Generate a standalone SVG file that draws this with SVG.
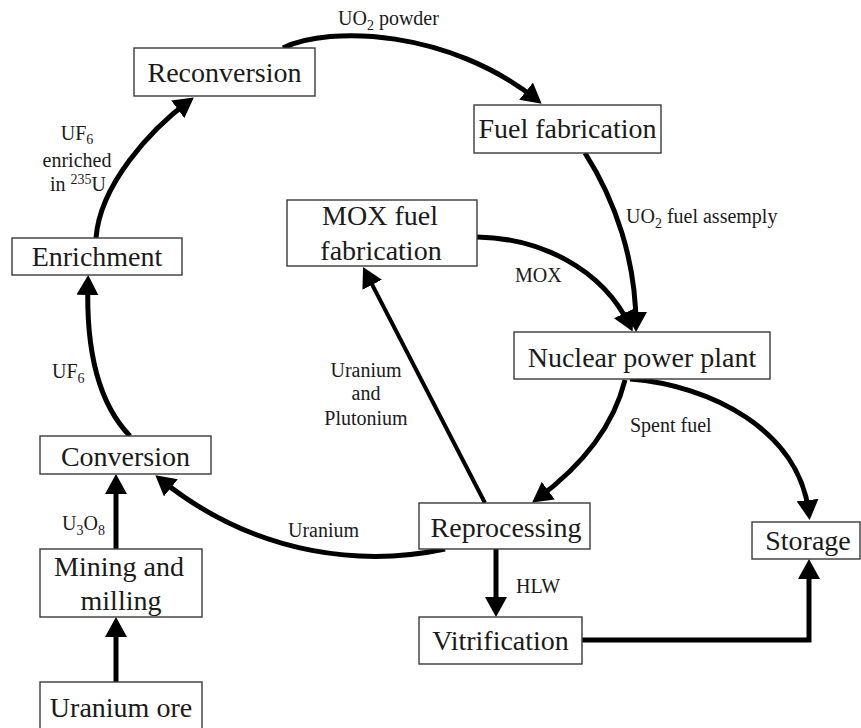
<svg xmlns="http://www.w3.org/2000/svg" width="861" height="728" viewBox="0 0 861 728">
<defs>
<style>
.box{fill:#fff;stroke:#3a3a3a;stroke-width:1.4}
.nt{font-family:"Liberation Serif","Times New Roman",serif;font-size:28px;fill:#1a1a1a;text-anchor:middle}
.lb{font-family:"Liberation Serif","Times New Roman",serif;font-size:20px;fill:#1a1a1a}
.c{fill:none;stroke:#000;stroke-width:5;marker-end:url(#ah)}
.sub{font-size:14px}
</style>
<marker id="ah" viewBox="0 0 20 22" refX="14" refY="11" markerWidth="20" markerHeight="22" markerUnits="userSpaceOnUse" orient="auto">
<path d="M0,0 L20,11 L0,22 z" fill="#000"/>
</marker>
</defs>
<rect width="861" height="728" fill="#fff"/>
<g id="connectors">
<path class="c" d="M96,238 C100,185 150,130 189,101"/>
<path class="c" d="M283,48 C330,25 450,30 537,100"/>
<path class="c" d="M585,153 C615,200 636,260 636,326"/>
<path class="c" d="M477,237 C540,238 602,268 630,326"/>
<path class="c" d="M625,380 C615,420 590,460 537,499"/>
<path class="c" d="M630,379 C710,385 800,430 809,514"/>
<path class="c" style="stroke-width:4" d="M485,503 L365.8,272.3"/>
<path class="c" d="M445,549 C370,565 260,560 160,479"/>
<path class="c" d="M130,436 C95,400 86,340 88,281"/>
<path class="c" d="M116,549 L116,480"/>
<path class="c" d="M116,682 L116,623"/>
<path class="c" d="M496,549 L496,611"/>
<path class="c" d="M582,640 L809,640 L809,565"/>
</g>
<g id="labels">
<text class="lb" x="338" y="25">UO<tspan class="sub" dy="5">2</tspan><tspan dy="-5"> powder</tspan></text>
<text class="lb" x="626" y="223">UO<tspan class="sub" dy="5">2</tspan><tspan dy="-5"> fuel assemply</tspan></text>
<text class="lb" x="515" y="282">MOX</text>
<text class="lb" text-anchor="middle" x="77" y="140">UF<tspan class="sub" dy="4">6</tspan></text>
<text class="lb" text-anchor="middle" x="77" y="167">enriched</text>
<text class="lb" text-anchor="middle" x="78" y="191">in <tspan class="sub" dy="-7">235</tspan><tspan dy="7">U</tspan></text>
<text class="lb" x="52" y="378">UF<tspan class="sub" dy="5">6</tspan></text>
<text class="lb" x="62" y="530">U<tspan class="sub" dy="5">3</tspan><tspan dy="-5">O</tspan><tspan class="sub" dy="5">8</tspan></text>
<text class="lb" text-anchor="middle" x="366" y="377">Uranium</text>
<text class="lb" text-anchor="middle" x="366" y="400">and</text>
<text class="lb" text-anchor="middle" x="366" y="425">Plutonium</text>
<text class="lb" x="288" y="537">Uranium</text>
<text class="lb" x="630" y="432">Spent fuel</text>
<text class="lb" x="516" y="593">HLW</text>
</g>
<g id="reconversion"><rect class="box" x="134" y="48" width="181" height="48"/><text class="nt" x="224.5" y="82">Reconversion</text></g>
<g id="fuel-fabrication"><rect class="box" x="474" y="105" width="187" height="48"/><text class="nt" x="567.5" y="138">Fuel fabrication</text></g>
<g id="enrichment"><rect class="box" x="12" y="238" width="170" height="37"/><text class="nt" x="97" y="266">Enrichment</text></g>
<g id="mox-fuel-fabrication"><rect class="box" x="287" y="200" width="190" height="66"/><text class="nt" x="380" y="225">MOX fuel</text><text class="nt" x="381" y="260">fabrication</text></g>
<g id="nuclear-power-plant"><rect class="box" x="514" y="332" width="256" height="47"/><text class="nt" x="642" y="367">Nuclear power plant</text></g>
<g id="conversion"><rect class="box" x="40" y="436" width="171" height="38"/><text class="nt" x="125.5" y="466">Conversion</text></g>
<g id="reprocessing"><rect class="box" x="419" y="503" width="171" height="46"/><text class="nt" x="506" y="537">Reprocessing</text></g>
<g id="storage"><rect class="box" x="752" y="522" width="108" height="37"/><text class="nt" x="808" y="550">Storage</text></g>
<g id="mining-and-milling"><rect class="box" x="40" y="549" width="162" height="68"/><text class="nt" x="119" y="576">Mining and</text><text class="nt" x="121" y="610">milling</text></g>
<g id="vitrification"><rect class="box" x="419" y="617" width="163" height="47"/><text class="nt" x="500.5" y="650">Vitrification</text></g>
<g id="uranium-ore"><rect class="box" x="40" y="682" width="162" height="50"/><text class="nt" x="121" y="717">Uranium ore</text></g>
</svg>
